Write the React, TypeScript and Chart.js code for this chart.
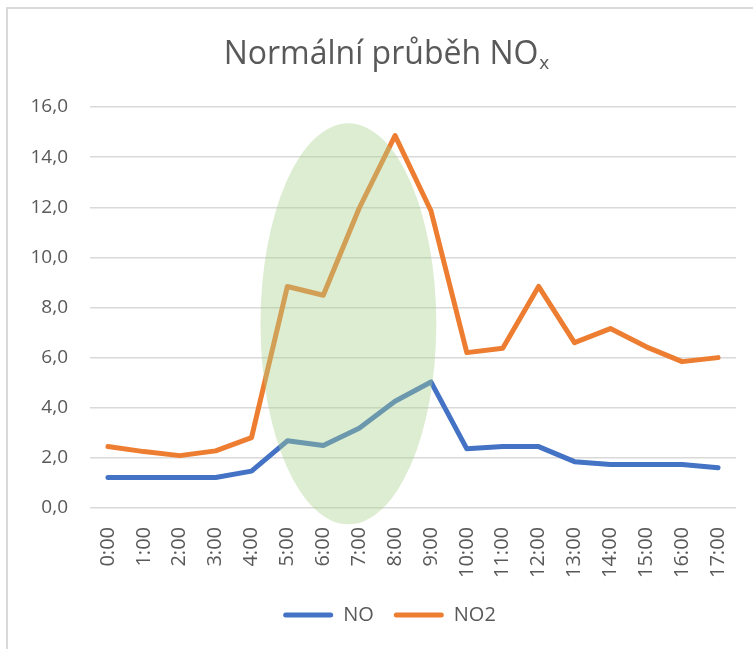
import React, { useEffect, useRef } from "react";
import { Chart, registerables } from "chart.js";

Chart.register(...registerables);

const hours = [
  "0:00", "1:00", "2:00", "3:00", "4:00", "5:00", "6:00", "7:00", "8:00",
  "9:00", "10:00", "11:00", "12:00", "13:00", "14:00", "15:00", "16:00", "17:00",
];
const noValues = [1.22, 1.22, 1.22, 1.22, 1.47, 2.68, 2.49, 3.18, 4.26, 5.03, 2.36, 2.45, 2.45, 1.85, 1.74, 1.74, 1.74, 1.61];
const no2Values = [2.45, 2.25, 2.09, 2.28, 2.81, 8.84, 8.49, 11.96, 14.86, 11.86, 6.2, 6.37, 8.84, 6.6, 7.16, 6.43, 5.84, 6.0];
const yTickValues = [0, 2, 4, 6, 8, 10, 12, 14, 16];
const yTickLabels = ["0,0", "2,0", "4,0", "6,0", "8,0", "10,0", "12,0", "14,0", "16,0"];
const titleMain = "Normální průběh NO";
const titleSub = "x";

// highlighted region (in data units: category index / value)
const highlightCenterIndex = 6.7;
const highlightCenterValue = 7.35;
const highlightHalfWidth = 2.45;
const highlightHalfHeight = 8.0;

const TEXT = "#595959";
const FONT = '"Open Sans", sans-serif';

const ellipsePlugin = {
  id: "ellipse",
  afterDatasetsDraw(chart: any) {
    const x = chart.scales.x;
    const y = chart.scales.y;
    const cx = x.getPixelForValue(highlightCenterIndex);
    const rx = Math.abs(x.getPixelForValue(highlightCenterIndex + highlightHalfWidth) - cx);
    const cy = y.getPixelForValue(highlightCenterValue);
    const ry = Math.abs(y.getPixelForValue(highlightCenterValue + highlightHalfHeight) - cy);
    const ctx = chart.ctx;
    ctx.save();
    ctx.beginPath();
    ctx.ellipse(cx, cy, rx, ry, 0, 0, Math.PI * 2);
    ctx.fillStyle = "rgba(169,209,142,0.4)";
    ctx.fill();
    ctx.restore();
  },
};

const titlePlugin = {
  id: "subTitle",
  afterDraw(chart: any) {
    const ctx = chart.ctx;
    ctx.save();
    ctx.fillStyle = TEXT;
    ctx.textBaseline = "alphabetic";
    ctx.textAlign = "left";
    ctx.font = `32px ${FONT}`;
    const w1 = ctx.measureText(titleMain).width;
    ctx.font = `19px ${FONT}`;
    const w2 = ctx.measureText(titleSub).width;
    const start = chart.width / 2 - (w1 + w2) / 2;
    ctx.font = `32px ${FONT}`;
    ctx.fillText(titleMain, start, 64);
    ctx.font = `19px ${FONT}`;
    ctx.fillText(titleSub, start + w1 + 1, 69);
    ctx.restore();
  },
};

// centre the legend on the whole chart box rather than on the plot side
const legendShiftPlugin = {
  id: "legendShift",
  afterLayout(chart: any) {
    const lg = chart.legend;
    if (!lg) return;
    const target = chart.width / 2 + 3.5;
    const shift = target - (lg.left + lg.right) / 2;
    lg.left += shift;
    lg.right += shift;
  },
};

export default function App() {
  const ref = useRef<HTMLCanvasElement>(null);

  useEffect(() => {
    if (!ref.current) return;
    const chart = new Chart(ref.current, {
      type: "line",
      data: {
        labels: hours,
        datasets: [
          {
            label: "NO",
            data: noValues,
            borderColor: "#4472C4",
            backgroundColor: "#4472C4",
            borderWidth: 5,
            pointRadius: 0,
            tension: 0,
            borderJoinStyle: "round",
            borderCapStyle: "round",
          },
          {
            label: "NO2",
            data: no2Values,
            borderColor: "#ED7D31",
            backgroundColor: "#ED7D31",
            borderWidth: 5,
            pointRadius: 0,
            tension: 0,
            borderJoinStyle: "round",
            borderCapStyle: "round",
          },
        ],
      },
      options: {
        animation: false,
        responsive: false,
        layout: { padding: { top: 107, left: 0, right: 36, bottom: 14 } },
        plugins: {
          title: { display: false },
          tooltip: { enabled: false },
          legend: {
            position: "bottom",
            labels: {
              color: TEXT,
              font: { family: FONT, size: 20 },
              boxWidth: 50,
              boxHeight: 5,
              padding: 20,
              useBorderRadius: true,
              borderRadius: 2.5,
              generateLabels(chart: any) {
                const items = Chart.defaults.plugins.legend.labels.generateLabels(chart);
                items.forEach((it: any) => {
                  it.lineWidth = 0;
                });
                return items;
              },
            },
          },
        },
        scales: {
          x: {
            type: "category",
            offset: true,
            grid: { display: false, drawTicks: false },
            border: { display: false },
            ticks: {
              color: TEXT,
              font: { family: FONT, size: 20 },
              minRotation: 90,
              maxRotation: 90,
              autoSkip: false,
              padding: 19,
            },
            afterFit(scale: any) {
              scale.height = 77;
            },
          },
          y: {
            min: 0,
            max: 16,
            grid: { color: "#d9d9d9", lineWidth: 1.5, drawTicks: false },
            border: { display: false },
            ticks: {
              color: TEXT,
              font: { family: FONT, size: 19 },
              padding: 22,
              stepSize: 2,
              callback(value: any) {
                const i = yTickValues.indexOf(Number(value));
                return i >= 0 ? yTickLabels[i] : "";
              },
            },
            afterFit(scale: any) {
              scale.width = 90;
            },
          },
        },
      },
      plugins: [ellipsePlugin, titlePlugin, legendShiftPlugin],
    });
    return () => chart.destroy();
  }, []);

  return (
    <div
      style={{
        position: "fixed",
        left: 0,
        top: 0,
        width: 753,
        height: 649,
        overflow: "hidden",
        background: "#fff",
      }}
    >
      <div
        style={{
          position: "absolute",
          left: 6,
          top: 7,
          width: 900,
          height: 800,
          borderLeft: "2px solid #d9d9d9",
          borderTop: "2px solid #d9d9d9",
        }}
      />
      <canvas
        ref={ref}
        width={772}
        height={649}
        style={{ position: "absolute", left: 0, top: 0, width: 772, height: 649 }}
      />
    </div>
  );
}
